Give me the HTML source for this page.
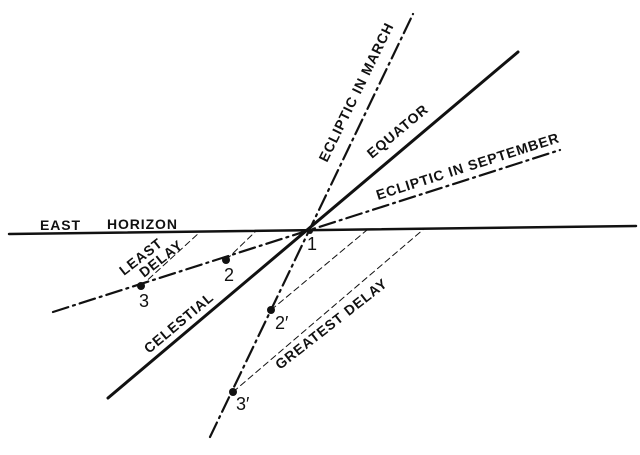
<!DOCTYPE html>
<html><head><style>
html,body{margin:0;padding:0;background:#fff;}
svg text{font-family:"Liberation Sans",sans-serif;font-weight:bold;font-size:14px;letter-spacing:0.9px;fill:#111;}
svg text.n{font-weight:normal;font-size:18px;letter-spacing:0;}
</style></head><body>
<svg width="640" height="450" viewBox="0 0 640 450" xmlns="http://www.w3.org/2000/svg">
<g stroke="#111" fill="none" stroke-linecap="round">
<line x1="9" y1="234" x2="636" y2="226" stroke-width="2.5"/>
<line x1="108" y1="398" x2="518" y2="52" stroke-width="3"/>
<line x1="210" y1="437" x2="413" y2="14" stroke-width="2.2" stroke-dasharray="16,5,2,5"/>
<line x1="53" y1="312" x2="560" y2="150" stroke-width="2.2" stroke-dasharray="16,5,2,5"/>
<g stroke-width="1" stroke-dasharray="6,4">
<line x1="141" y1="286" x2="200" y2="232"/>
<line x1="226" y1="260" x2="255" y2="232"/>
<line x1="271" y1="310" x2="367" y2="230"/>
<line x1="233" y1="392" x2="425" y2="228"/>
</g>
</g>
<g fill="#111">
<circle cx="141" cy="286" r="4"/>
<circle cx="226" cy="260" r="4"/>
<circle cx="271" cy="310" r="4"/>
<circle cx="233" cy="392" r="4"/>
<circle cx="310" cy="231" r="3"/>
</g>
<text x="40" y="230">EAST</text>
<text x="107" y="229">HORIZON</text>
<text x="307" y="250" class="n">1</text>
<text x="224" y="281" class="n">2</text>
<text x="139" y="307" class="n">3</text>
<text x="275" y="329" class="n">2′</text>
<text x="236" y="410" class="n">3′</text>
<text transform="translate(124,276) rotate(-38)">LEAST</text>
<text transform="translate(144,278) rotate(-38)">DELAY</text>
<text transform="translate(149,354) rotate(-40)">CELESTIAL</text>
<text transform="translate(372,159) rotate(-40)">EQUATOR</text>
<text transform="translate(327,163) rotate(-64)">ECLIPTIC IN MARCH</text>
<text transform="translate(378,200) rotate(-17.7)">ECLIPTIC IN SEPTEMBER</text>
<text transform="translate(280,370) rotate(-38)">GREATEST DELAY</text>
</svg>
</body></html>
